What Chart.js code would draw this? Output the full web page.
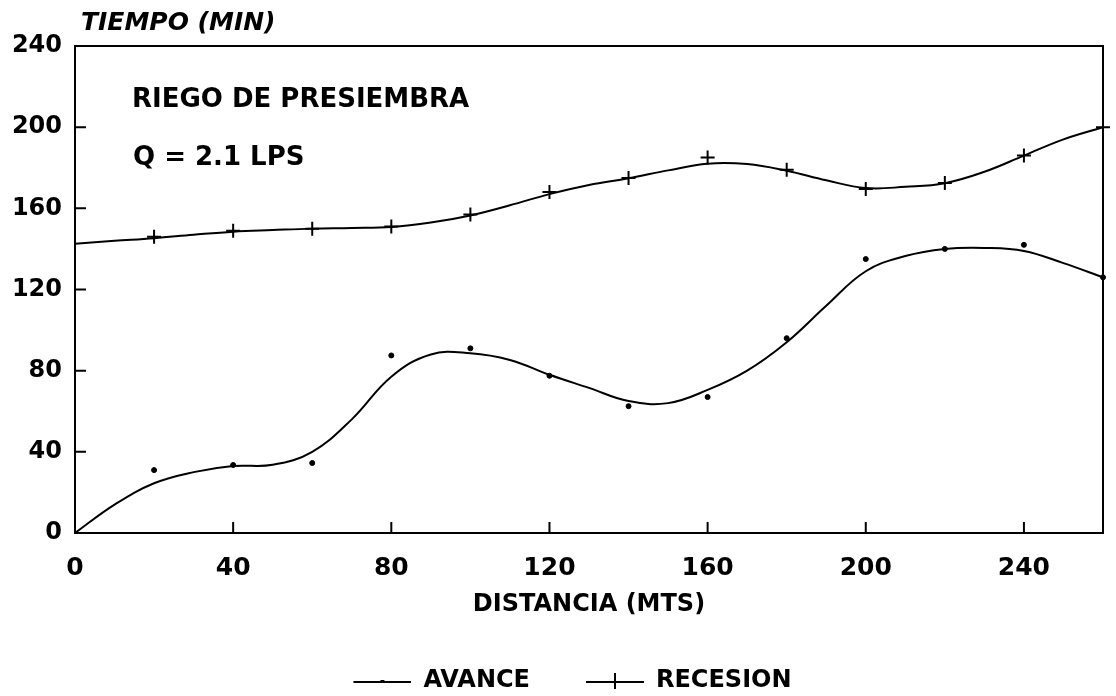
<!DOCTYPE html>
<html>
<head>
<meta charset="utf-8">
<title>Riego de presiembra</title>
<script src="https://cdn.jsdelivr.net/npm/chart.js@4.4.1/dist/chart.umd.min.js"></script>
<style>
  html, body { margin: 0; padding: 0; background: #fff; }
  #wrap { width: 1116px; height: 696px; }
</style>
</head>
<body>
<div id="wrap"><canvas id="riegoChart"></canvas></div>
<script>
'use strict';

/* ── Data ── */
const distancia = [20, 40, 60, 80, 100, 120, 140, 160, 180, 200, 220, 240, 260];
const avance    = [31, 33.5, 34.5, 87.5, 91, 77.5, 62.5, 67, 96, 135, 140, 142, 126];
const recesion  = [146, 149, 150, 151, 157, 168, 175, 185, 179, 169.5, 172.5, 186, 200];

// fitted curves, read every 10 m
const curvaX         = [0, 10, 20, 30, 40, 50, 60, 70, 80, 90, 100, 110, 120, 130, 140, 150, 160, 170, 180, 190, 200, 210, 220, 230, 240, 250, 260];
const avanceAjuste   = [0, 14, 24.5, 30, 33, 33.6, 40, 56, 77, 88, 88.6, 85.3, 78, 71.5, 65, 64, 70.5, 80, 94, 112, 129, 136.5, 140, 140.5, 139, 133, 126];
const recesionAjuste = [142.6, 144, 145.3, 147, 148.5, 149.3, 150, 150.3, 150.8, 153, 156.5, 161.5, 167, 171.5, 174.8, 178.7, 182, 181.8, 178.5, 173.8, 170, 170.6, 172.4, 178, 186, 194, 200];

const xTicks = [0, 40, 80, 120, 160, 200, 240];
const yTicks = [0, 40, 80, 120, 160, 200, 240];

const FONT = "'DejaVu Sans', 'Liberation Sans', sans-serif";
const pts = (xs, ys) => xs.map((x, i) => ({ x, y: ys[i] }));

/* ── Legend samples: line with marker in the middle (left part left blank as spacing) ── */
function legendSample(kind) {
  const c = document.createElement('canvas');
  c.width = 100; c.height = 18;
  const g = c.getContext('2d');
  g.strokeStyle = '#000'; g.fillStyle = '#000'; g.lineWidth = 2;
  g.beginPath(); g.moveTo(42, 10); g.lineTo(100, 10); g.stroke();
  if (kind === 'cross') {
    g.beginPath(); g.moveTo(71, 1); g.lineTo(71, 17); g.stroke();
  } else {
    g.fillRect(69, 8, 4, 3);
  }
  return c;
}

/* ── Frame, inward ticks and free text ── */
const framePlugin = {
  id: 'frame',
  afterDraw(chart) {
    const { ctx, chartArea: a, scales } = chart;
    ctx.save();
    ctx.strokeStyle = '#000';
    ctx.lineWidth = 2;
    ctx.strokeRect(a.left, a.top, a.right - a.left, a.bottom - a.top);

    ctx.beginPath();
    scales.x.ticks.forEach(t => {
      if (t.value === 0) return;
      const px = scales.x.getPixelForValue(t.value);
      ctx.moveTo(px, a.bottom); ctx.lineTo(px, a.bottom - 11);
    });
    scales.y.ticks.forEach(t => {
      if (t.value === 0 || t.value === 240) return;
      const py = scales.y.getPixelForValue(t.value);
      ctx.moveTo(a.left, py); ctx.lineTo(a.left + 11, py);
    });
    ctx.stroke();

    ctx.fillStyle = '#000';
    ctx.textBaseline = 'middle';
    ctx.textAlign = 'left';
    ctx.font = 'italic bold 25px ' + FONT;
    ctx.fillText('TIEMPO (MIN)', a.left + 6, a.top - 23);
    ctx.font = 'bold 26px ' + FONT;
    ctx.fillText('RIEGO DE PRESIEMBRA', a.left + 57, a.top + 54);
    ctx.fillText('Q = 2.1 LPS', a.left + 58, a.top + 112);
    ctx.restore();
  }
};

new Chart(document.getElementById('riegoChart'), {
  type: 'scatter',
  data: {
    datasets: [
      {
        label: 'AVANCE',
        data: pts(distancia, avance),
        pointStyle: 'circle',
        pointRadius: 2.5,
        pointBackgroundColor: '#000',
        pointBorderColor: '#000',
        showLine: false,
        clip: false,
      },
      {
        label: 'RECESION',
        data: pts(distancia, recesion),
        pointStyle: 'cross',
        pointRadius: 7,
        pointBorderWidth: 2,
        pointBorderColor: '#000',
        showLine: false,
        clip: false,
      },
      {
        label: 'ajuste avance',
        data: pts(curvaX, avanceAjuste),
        showLine: true,
        pointRadius: 0,
        borderColor: '#000',
        borderWidth: 2,
        tension: 0.4,
      },
      {
        label: 'ajuste recesion',
        data: pts(curvaX, recesionAjuste),
        showLine: true,
        pointRadius: 0,
        borderColor: '#000',
        borderWidth: 2,
        tension: 0.4,
      },
    ]
  },
  options: {
    responsive: true,
    maintainAspectRatio: false,
    animation: false,
    layout: { padding: { top: 46, left: 0, right: 13, bottom: -7 } },
    plugins: {
      tooltip: { enabled: false },
      legend: {
        display: true,
        position: 'bottom',
        labels: {
          color: '#000',
          font: { family: FONT, size: 24, weight: 'bold' },
          usePointStyle: true,
          pointStyleWidth: 100,
          boxHeight: 18,
          padding: 14,
          filter: item => !item.text.startsWith('ajuste'),
          generateLabels(chart) {
            const items = Chart.defaults.plugins.legend.labels.generateLabels(chart);
            return items.map(it => {
              it.pointStyle = legendSample(it.text === 'RECESION' ? 'cross' : 'dot');
              return it;
            });
          }
        }
      }
    },
    scales: {
      x: {
        type: 'linear',
        min: 0,
        max: 260,
        afterBuildTicks: s => { s.ticks = xTicks.map(v => ({ value: v })); },
        afterFit: s => { s.height = 122; },
        ticks: { color: '#000', padding: 20, font: { family: FONT, size: 25, weight: 'bold' } },
        grid: { display: false, drawTicks: false },
        border: { display: false },
        title: {
          display: true,
          text: 'DISTANCIA (MTS)',
          color: '#000',
          font: { family: FONT, size: 24, weight: 'bold' },
          padding: { top: 4, bottom: 36 }
        }
      },
      y: {
        min: 0,
        max: 240,
        afterBuildTicks: s => { s.ticks = yTicks.map(v => ({ value: v })); },
        afterFit: s => { s.width = 75; },
        ticks: { color: '#000', padding: 13, font: { family: FONT, size: 24, weight: 'bold' } },
        grid: { display: false, drawTicks: false },
        border: { display: false }
      }
    }
  },
  plugins: [framePlugin]
});
</script>
</body>
</html>
